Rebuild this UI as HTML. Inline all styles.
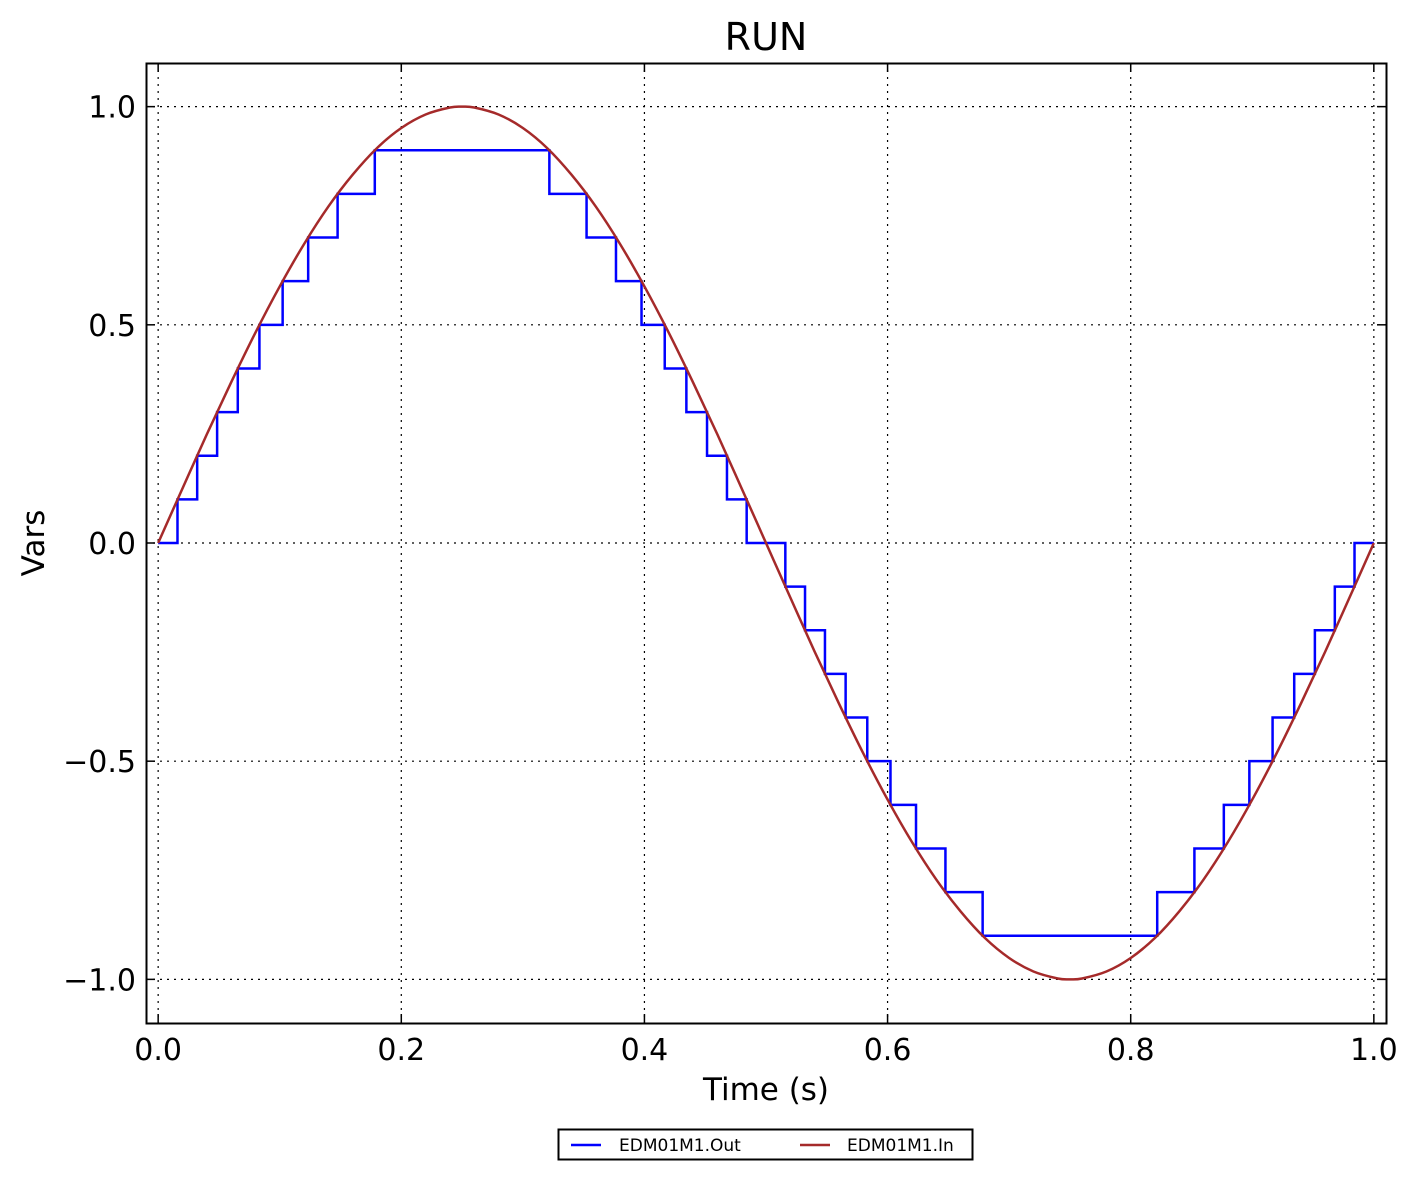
<!DOCTYPE html>
<html><head><meta charset="utf-8"><style>
html,body{margin:0;padding:0;background:#fff;}
svg{display:block;font-family:"DejaVu Sans","Liberation Sans",sans-serif;}
</style></head><body>
<svg id="chart" width="1417" height="1179" xmlns="http://www.w3.org/2000/svg">
<rect x="0" y="0" width="1417" height="1179" fill="#fff"/>
<text x="766" y="50" font-size="38" text-anchor="middle">RUN</text>
<g id="grid"></g>
<g id="series"></g>
<rect x="146.5" y="63.5" width="1240" height="960" fill="none" stroke="#000" stroke-width="2"/>
<g id="ticks"></g>
<text x="766" y="1100" font-size="31" text-anchor="middle">Time (s)</text>
<text transform="translate(44,543) rotate(-90)" font-size="31" text-anchor="middle">Vars</text>
<g>
<rect x="558.5" y="1129.5" width="414" height="30" fill="#fff" stroke="#000" stroke-width="2"/>
<line x1="571" y1="1145" x2="601" y2="1145" stroke="#0000ff" stroke-width="2.5"/>
<text x="619" y="1151" font-size="17">EDM01M1.Out</text>
<line x1="800" y1="1145" x2="830" y2="1145" stroke="#a52a2a" stroke-width="2.5"/>
<text x="847" y="1151" font-size="17">EDM01M1.In</text>
</g>
</svg>
<script>
const xTicks=[0.0,0.2,0.4,0.6,0.8,1.0];
const xTickLabels=["0.0","0.2","0.4","0.6","0.8","1.0"];
const yTicks=[1.0,0.5,0.0,-0.5,-1.0];
const yTickLabels=["1.0","0.5","0.0","\u22120.5","\u22121.0"];
const inTimes=[0,0.02,0.04,0.06,0.08,0.10,0.12,0.14,0.16,0.18,0.20,0.22,0.24,0.25,0.26,0.28,0.30,0.32,0.34,0.36,0.38,0.40,0.42,0.44,0.46,0.48,0.50,0.52,0.54,0.56,0.58,0.60,0.62,0.64,0.66,0.68,0.70,0.72,0.74,0.75,0.76,0.78,0.80,0.82,0.84,0.86,0.88,0.90,0.92,0.94,0.96,0.98,1.0];
const inValues=[0,0.125,0.249,0.368,0.482,0.588,0.685,0.771,0.844,0.905,0.951,0.982,0.998,1.0,0.998,0.982,0.951,0.905,0.844,0.771,0.685,0.588,0.482,0.368,0.249,0.125,0,-0.125,-0.249,-0.368,-0.482,-0.588,-0.685,-0.771,-0.844,-0.905,-0.951,-0.982,-0.998,-1.0,-0.998,-0.982,-0.951,-0.905,-0.844,-0.771,-0.685,-0.588,-0.482,-0.368,-0.249,-0.125,0];
const outTimes=[0,0.0159,0.0321,0.0485,0.0655,0.0833,0.1024,0.1234,0.1476,0.1782,0.3218,0.3524,0.3766,0.3976,0.4167,0.4345,0.4515,0.4679,0.4841,0.5159,0.5321,0.5485,0.5655,0.5833,0.6024,0.6234,0.6476,0.6782,0.8218,0.8524,0.8766,0.8976,0.9167,0.9345,0.9515,0.9679,0.9841,1.0];
const outValues=[0,0.1,0.2,0.3,0.4,0.5,0.6,0.7,0.8,0.9,0.8,0.7,0.6,0.5,0.4,0.3,0.2,0.1,0,-0.1,-0.2,-0.3,-0.4,-0.5,-0.6,-0.7,-0.8,-0.9,-0.8,-0.7,-0.6,-0.5,-0.4,-0.3,-0.2,-0.1,0,0];

const NS="http://www.w3.org/2000/svg";
const L=146,R=1386,T=63,B=1023;
const xMin=-0.01,xMax=1.01,yMin=-1.1,yMax=1.1;
function sx(v){return L+(v-xMin)/(xMax-xMin)*(R-L);}
function sy(v){return B-(v-yMin)/(yMax-yMin)*(B-T);}
function mk(tag,attrs,parent){const e=document.createElementNS(NS,tag);for(const k in attrs)e.setAttribute(k,attrs[k]);parent.appendChild(e);return e;}
const grid=document.getElementById('grid'),ticks=document.getElementById('ticks'),series=document.getElementById('series');
xTicks.forEach((v,i)=>{
  const x=sx(v);
  const g=mk('line',{x1:x,y1:T,x2:x,y2:B,stroke:'#000','stroke-width':1.2,'stroke-dasharray':'2,5'},grid);
  
  
  const t1=mk('line',{x1:x,y1:B,x2:x,y2:B-9,stroke:'#000','stroke-width':1.5},ticks);
  
  
  const t2=mk('line',{x1:x,y1:T,x2:x,y2:T+9,stroke:'#000','stroke-width':1.5},ticks);
  
  
  const lb=mk('text',{x:x,y:1060,'font-size':30,'text-anchor':'middle'},ticks);
  lb.textContent=xTickLabels[i];
  
  
});
yTicks.forEach((v,i)=>{
  const y=sy(v);
  const g=mk('line',{x1:L,y1:y,x2:R,y2:y,stroke:'#000','stroke-width':1.2,'stroke-dasharray':'2,5'},grid);
  
  
  const t1=mk('line',{x1:L,y1:y,x2:L+9,y2:y,stroke:'#000','stroke-width':1.5},ticks);
  
  
  const t2=mk('line',{x1:R,y1:y,x2:R-9,y2:y,stroke:'#000','stroke-width':1.5},ticks);
  
  
  const lb=mk('text',{x:136,y:y+11,'font-size':30,'text-anchor':'end'},ticks);
  lb.textContent=yTickLabels[i];
  
  
});
let d='';
outTimes.forEach((t,i)=>{
  const x=sx(t),y=sy(outValues[i]);
  if(i===0)d+='M'+x+','+y;else d+=' H'+x+' V'+y;
});
const po=mk('path',{d:d,fill:'none',stroke:'#0000ff','stroke-width':2.5},series);


const pts=inTimes.map((t,i)=>[sx(t),sy(inValues[i])]);
let d2='M'+pts[0][0]+','+pts[0][1];
for(let i=0;i<pts.length-1;i++){
  const p0=pts[Math.max(0,i-1)],p1=pts[i],p2=pts[i+1],p3=pts[Math.min(pts.length-1,i+2)];
  const c1x=p1[0]+(p2[0]-p0[0])/6,c1y=p1[1]+(p2[1]-p0[1])/6;
  const c2x=p2[0]-(p3[0]-p1[0])/6,c2y=p2[1]-(p3[1]-p1[1])/6;
  d2+=' C'+c1x+','+c1y+' '+c2x+','+c2y+' '+p2[0]+','+p2[1];
}
const pi=mk('path',{d:d2,fill:'none',stroke:'#a52a2a','stroke-width':2.5,'stroke-linejoin':'round'},series);


</script>
</body></html>
